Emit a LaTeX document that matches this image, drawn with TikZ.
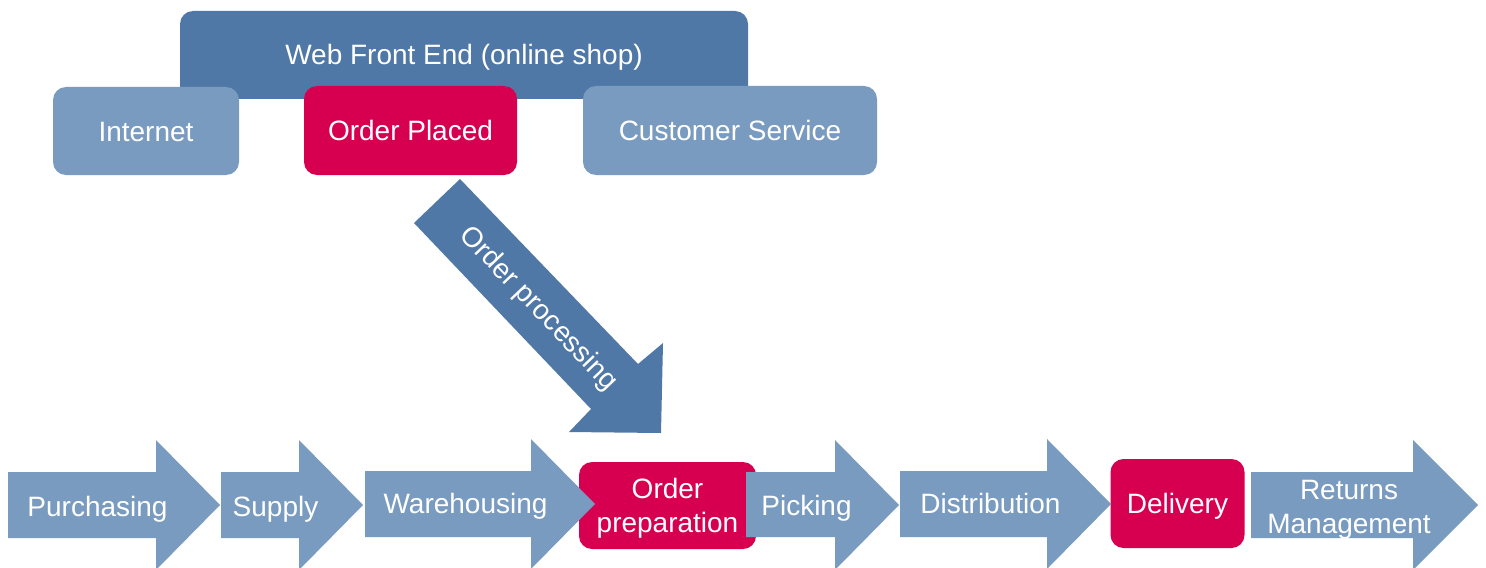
\documentclass[tikz,border=0pt]{standalone}
\usepackage{fontspec}
\setmainfont{Liberation Sans}
\usepackage{tikz}

\definecolor{shopblue}{RGB}{80,120,166}
\definecolor{stepblue}{RGB}{122,155,192}
\definecolor{keyred}{RGB}{215,0,80}

\begin{document}
\begin{tikzpicture}[x=0.5pt,y=-0.5pt,
  txt/.style={text=white,font=\fontsize{14}{17}\selectfont,align=center,inner sep=0pt},
  box/.style={txt,rounded corners=6.5pt,text height=10pt,text depth=0pt},
  shopbox/.style={box,fill=shopblue},
  chanbox/.style={box,fill=stepblue},
  redbox/.style={box,fill=keyred}]
\useasboundingbox (0,0) rectangle (1486,567);

% shop front and the three channels on top of it
\node[shopbox,minimum width=284pt,minimum height=44pt] (web) at (464,55) {Web Front End (online shop)};
\node[chanbox,minimum width=93pt,minimum height=44pt] (internet) at (146,131) {Internet};
\node[redbox,minimum width=106.5pt,minimum height=44.5pt] (placed) at (410.5,130.5) {Order Placed};
\node[chanbox,minimum width=147pt,minimum height=44.5pt] (service) at (730,130.5) {Customer Service};

% big diagonal arrow
\fill[shopblue] (460,179) -- (638,364) -- (663,343) -- (661,433) -- (569,432) -- (591,409) -- (414,223) -- cycle;
\node[txt,rotate=-46.3] (processing) at (538,309) {Order processing};

% red boxes sit under the chain arrows
\node[redbox,minimum width=88.5pt,minimum height=43.5pt,text height=,text depth=] (prep) at (667.5,505.5) {\rule{0pt}{13.2pt}Order\\preparation};
\node[redbox,minimum width=67pt,minimum height=44.5pt] (delivery) at (1177.5,503.5) {Delivery};

% the chain
\fill[stepblue] (8,472) -- (156,472) -- (156,440) -- (220,505) -- (156,570) -- (156,538) -- (8,538) -- cycle;
\fill[stepblue] (221,472) -- (299,472) -- (299,440) -- (363,505) -- (299,570) -- (299,538) -- (221,538) -- cycle;
\fill[stepblue] (365,471) -- (531,471) -- (531,439) -- (595,504) -- (531,569) -- (531,537) -- (365,537) -- cycle;
\fill[stepblue] (746,472) -- (835,472) -- (835,440) -- (899,505) -- (835,570) -- (835,537) -- (746,537) -- cycle;
\fill[stepblue] (900,471) -- (1047,471) -- (1047,439) -- (1111,504) -- (1047,569) -- (1047,537) -- (900,537) -- cycle;
\fill[stepblue] (1251,472) -- (1413,472) -- (1413,440) -- (1478,505) -- (1413,570) -- (1413,538) -- (1251,538) -- cycle;

\node[txt,anchor=base] (purchasing) at (97.5,516) {Purchasing};
\node[txt,anchor=base] (supply) at (275.5,516) {Supply};
\node[txt,anchor=base] (warehousing) at (465.5,513) {Warehousing};
\node[txt,anchor=base] (picking) at (806.5,515) {Picking};
\node[txt,anchor=base] (distribution) at (990.5,513) {Distribution};
\node[txt] (returns) at (1349,509.5) {Returns\\Management};
\end{tikzpicture}
\end{document}
